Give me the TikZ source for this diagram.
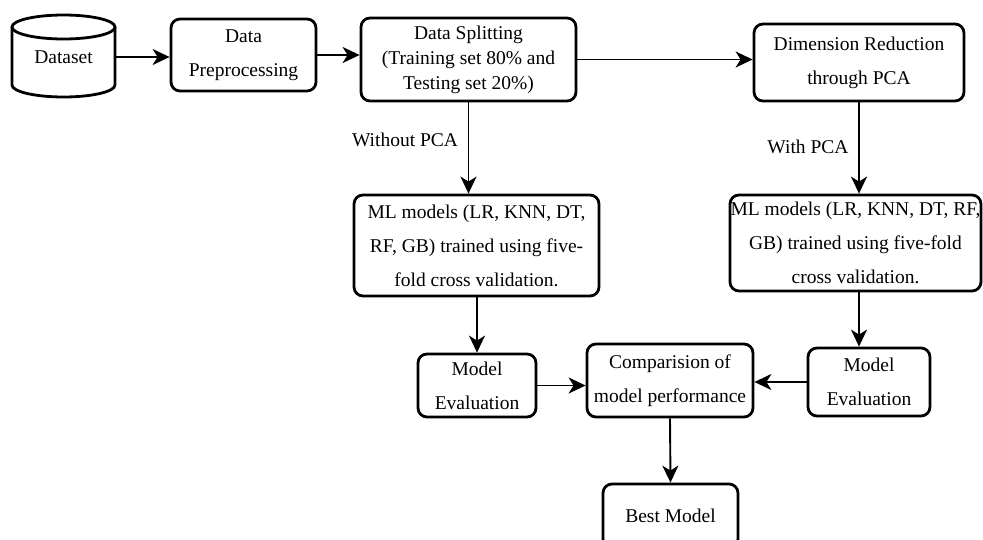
\documentclass[tikz,border=0pt]{standalone}
\usepackage{fontspec}
\setmainfont{Liberation Serif}
\usetikzlibrary{arrows.meta}
\begin{document}
\begin{tikzpicture}[x=1pt,y=-1pt,
  box/.style={draw, line width=2.8pt, rounded corners=9pt, align=center, inner sep=0pt, font=\fontsize{19.5}{34}\selectfont},
  lbl/.style={inner sep=0pt, font=\fontsize{19.5}{34}\selectfont},
  arr/.style={line width=1.9pt, -{Stealth[length=17pt, width=16pt, inset=5pt]}}]
\clip (0,0) rectangle (983,539);
% cylinder
\draw[line width=2.8pt] (12,27) -- (12,85) arc[start angle=180, end angle=360, x radius=51.5pt, y radius=12pt] -- (115,27);
\draw[line width=2.8pt] (63.5,27) ellipse [x radius=51.5pt, y radius=12pt];
\node[lbl, minimum width=103pt, minimum height=82pt] (ds) at (63.5,57) {Dataset};
\node[box, minimum width=145pt, minimum height=72pt] (pre) at (243.5,55) {Data\\Preprocessing};
\node[box, font=\fontsize{19.5}{25}\selectfont, minimum width=215pt, minimum height=83pt] (split) at (468.5,59.5) {Data Splitting\\(Training set 80\% and\\Testing set 20\%)};
\node[box, minimum width=210pt, minimum height=77pt] (dim) at (859,62.5) {Dimension Reduction\\through PCA};
\node[box, minimum width=245pt, minimum height=101pt] (mlL) at (476.5,245.5) {ML models (LR, KNN, DT,\\RF, GB) trained using five-\\fold cross validation.};
\node[box, minimum width=251pt, minimum height=96pt] (mlR) at (855.5,243) {ML models (LR, KNN, DT, RF,\\GB) trained using five-fold\\cross validation.};
\node[box, minimum width=118pt, minimum height=63pt] (meL) at (477,385.5) {Model\\Evaluation};
\node[box, minimum width=122pt, minimum height=68pt] (meR) at (869,382) {Model\\Evaluation};
\node[box, minimum width=166pt, minimum height=73pt] (comp) at (670,380.5) {Comparision of\\model performance};
\node[box, minimum width=135pt, minimum height=64pt] (best) at (670.5,516) {Best Model};
\node[lbl] (wo) at (405,140) {Without PCA};
\node[lbl] (wi) at (808,147) {With PCA};
% connectors
\draw[arr] (ds.east) -- (ds.east -| pre.west);
\draw[arr] (pre.east) -- (pre.east -| split.west);
\draw[arr] (split.east) -- (split.east -| dim.west);
\draw[arr] (split.south) -- (split.south |- mlL.north);
\draw[arr] (dim.south) -- (dim.south |- mlR.north);
\draw[arr] (mlL.south -| meL.north) -- (meL.north);
\draw[arr] (mlR.south -| dim.south) -- (meR.north -| dim.south);
\draw[arr] (meL.east) -- (meL.east -| comp.west);
\draw[arr] (meR.west) -- (meR.west -| comp.east);
\draw[arr] (comp.south) -- (best.north);
\end{tikzpicture}
\end{document}
